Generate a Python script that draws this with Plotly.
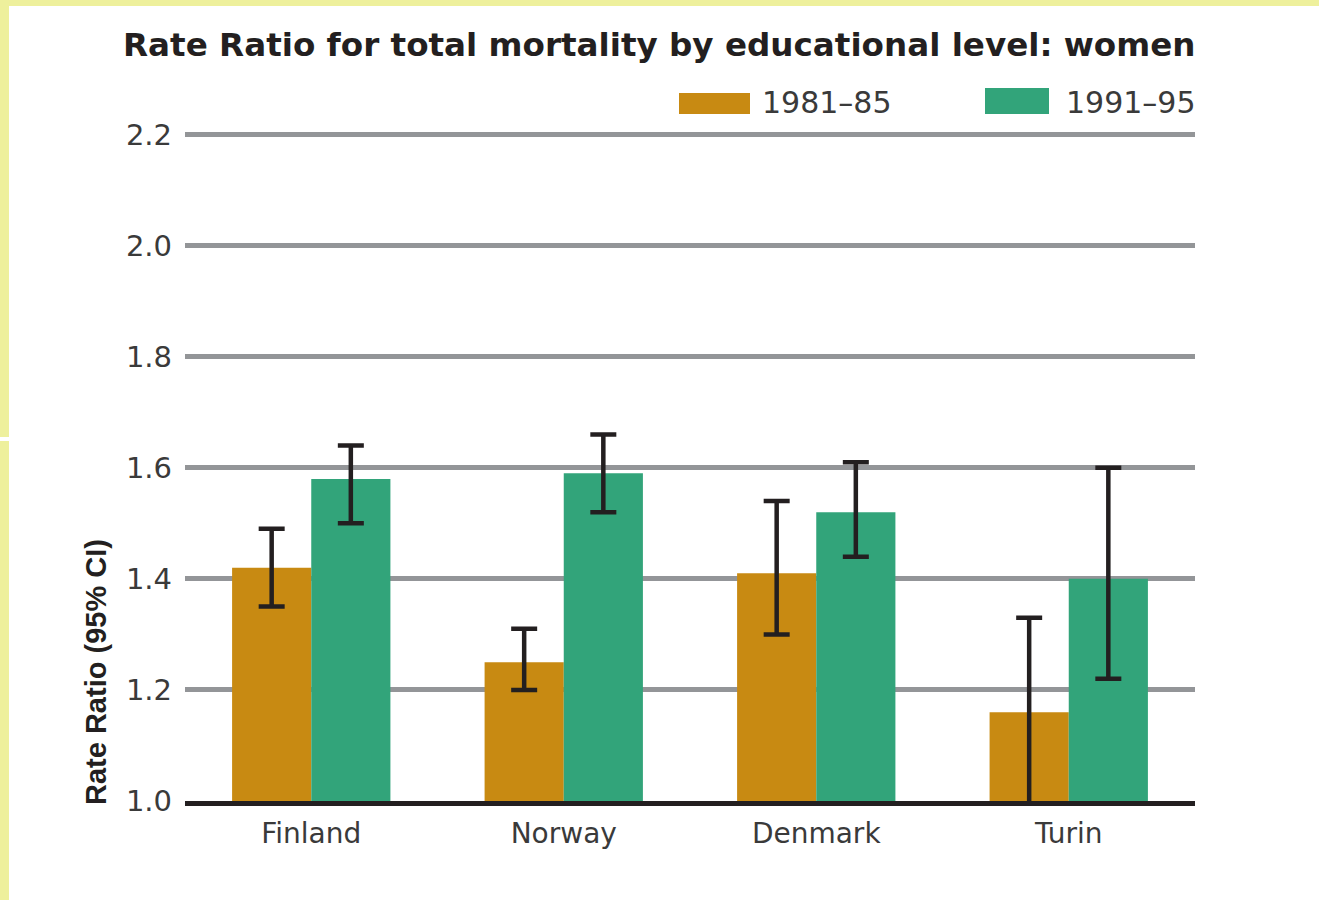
import numpy as np
import plotly.graph_objects as go

# ---- data -------------------------------------------------------------
countries = ["Finland", "Norway", "Denmark", "Turin"]
periods = ["1981\u201385", "1991\u201395"]

rr_1981 = [1.42, 1.25, 1.41, 1.16]
lo_1981 = [1.35, 1.20, 1.30, 0.98]
hi_1981 = [1.49, 1.31, 1.54, 1.33]

rr_1991 = [1.58, 1.59, 1.52, 1.40]
lo_1991 = [1.50, 1.52, 1.44, 1.22]
hi_1991 = [1.64, 1.66, 1.61, 1.60]

y_ticks = [1.0, 1.2, 1.4, 1.6, 1.8, 2.0, 2.2]

# ---- styling ----------------------------------------------------------
W, H = 1319, 900
ML, MR, MT, MB = 185, 124, 129, 99
ORANGE = "#C88A12"
GREEN = "#32A47A"
INK = "#231F20"
GRID = "#939598"
BORDER = "#EEF09C"
FONT = "DejaVu Sans"


def px_x(x):
    return (x - ML) / (W - ML - MR)


def px_y(y):
    return (H - MB - y) / (H - MT - MB)


def err(vals, lo, hi):
    v, l, h = np.array(vals), np.array(lo), np.array(hi)
    return dict(type="data", symmetric=False, array=h - v, arrayminus=v - l,
                color=INK, thickness=4.5, width=13)


fig = go.Figure()
fig.add_trace(go.Bar(x=countries, y=rr_1981, name=periods[0],
                     marker=dict(color=ORANGE, line=dict(width=0)),
                     error_y=err(rr_1981, lo_1981, hi_1981)))
fig.add_trace(go.Bar(x=countries, y=rr_1991, name=periods[1],
                     marker=dict(color=GREEN, line=dict(width=0)),
                     error_y=err(rr_1991, lo_1991, hi_1991)))

shapes = [
    # light yellow frame on the top and left edges
    dict(type="rect", xref="paper", yref="paper", x0=px_x(0), x1=px_x(W),
         y0=px_y(0), y1=px_y(6), fillcolor=BORDER, line_width=0, layer="below"),
    dict(type="rect", xref="paper", yref="paper", x0=px_x(0), x1=px_x(9),
         y0=px_y(6), y1=px_y(437), fillcolor=BORDER, line_width=0, layer="below"),
    dict(type="rect", xref="paper", yref="paper", x0=px_x(0), x1=px_x(9),
         y0=px_y(441), y1=px_y(H), fillcolor=BORDER, line_width=0, layer="below"),
    # legend swatches
    dict(type="rect", xref="paper", yref="paper", x0=px_x(679), x1=px_x(750),
         y0=px_y(114), y1=px_y(93), fillcolor=ORANGE, line_width=0),
    dict(type="rect", xref="paper", yref="paper", x0=px_x(985), x1=px_x(1049),
         y0=px_y(114), y1=px_y(88), fillcolor=GREEN, line_width=0),
]

annotations = [
    dict(text="Rate Ratio for total mortality by educational level: women",
         xref="paper", yref="paper", x=px_x(121), y=px_y(45),
         xanchor="left", yanchor="middle", showarrow=False,
         font=dict(family=FONT, size=32.6, color=INK, weight="bold")),
    dict(text=periods[0], xref="paper", yref="paper", x=px_x(760), y=px_y(102),
         xanchor="left", yanchor="middle", showarrow=False,
         font=dict(family=FONT, size=30, color="#3A3A3A")),
    dict(text=periods[1], xref="paper", yref="paper", x=px_x(1064), y=px_y(102),
         xanchor="left", yanchor="middle", showarrow=False,
         font=dict(family=FONT, size=30, color="#3A3A3A")),
    dict(text="Rate Ratio (95% CI)", xref="paper", yref="paper",
         x=px_x(96), y=px_y(672), xanchor="center", yanchor="middle",
         textangle=-90, showarrow=False,
         font=dict(family="Liberation Sans", size=29,
                   color=INK, weight="bold")),
]

fig.update_layout(
    width=W, height=H,
    margin=dict(l=ML, r=MR, t=MT, b=MB, pad=0),
    paper_bgcolor="white", plot_bgcolor="white",
    barmode="group", bargap=0.373, bargroupgap=0,
    showlegend=False,
    shapes=shapes, annotations=annotations,
    font=dict(family=FONT, color="#3A3A3A"),
)
fig.update_xaxes(
    showgrid=False, showline=True, linecolor=INK, linewidth=5,
    ticks="", tickfont=dict(family=FONT, size=28, color="#3A3A3A"),
    ticklabelstandoff=3,
)
fig.update_yaxes(
    range=[1.0, 2.21], tickvals=y_ticks, tickformat=".1f",
    showgrid=True, gridcolor=GRID, gridwidth=4.5,
    zeroline=False, showline=False, ticks="",
    tickfont=dict(family=FONT, size=29, color="#3A3A3A"),
    ticklabelstandoff=12,
)

fig.write_html("out.html")
